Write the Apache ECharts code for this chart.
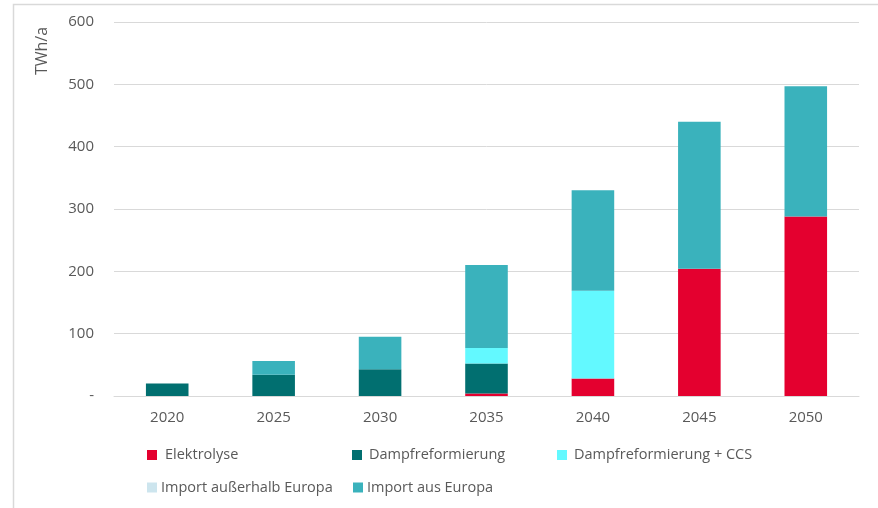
<!DOCTYPE html>
<html><head><meta charset="utf-8">
<script src="https://cdn.jsdelivr.net/npm/echarts@6/dist/echarts.min.js"></script>
<style>html,body{margin:0;padding:0;background:#fff}#c{width:878px;height:508px}</style>
</head><body><div id="c"></div>
<script>
const categories = ['2020','2025','2030','2035','2040','2045','2050'];
const elektrolyse = [0, 0, 0, 4, 28, 204, 288];
const dampf = [20, 34, 43, 48, 0, 0, 0];
const dampfCCS = [0, 0, 0, 25, 141, 0, 0];
const importAusserhalb = [0, 0, 0, 0, 0, 0, 0];
const importEuropa = [0, 22, 52, 133, 161, 236, 209];
const yTicks = [0, 100, 200, 300, 400, 500, 600];

const names = ['Elektrolyse','Dampfreformierung','Dampfreformierung + CCS','Import außerhalb Europa','Import aus Europa'];
const colors = ['#E4002F','#016F70','#63F9FF','#CDE5EE','#3AB2BC'];
const datas = [elektrolyse, dampf, dampfCCS, importAusserhalb, importEuropa];
const font = 'Open Sans';
const txt = '#595959';

const legendPos = [[147,447,3],[352,447,2],[557,447,2],[147,479.5,-1],[353,479.5,-1]];
const chart = echarts.init(document.getElementById('c'));
chart.setOption({
  animation:false,
  textStyle:{fontFamily:font},
  grid:{left:114, right:19, top:22, bottom:112},
  xAxis:{type:'category', data:categories, axisLine:{show:true,lineStyle:{color:'#D9D9D9'}}, axisTick:{show:false},
    axisLabel:{color:txt, fontSize:15, margin:14, fontFamily:font}},
  yAxis:{type:'value', min:0, max:600, interval:100, axisLine:{show:false}, axisTick:{show:false},
    splitLine:{lineStyle:{color:'#D9D9D9'}},
    axisLabel:{color:txt, fontSize:15, margin:20, fontFamily:font,
      formatter:v=> yTicks.includes(v) ? (v===0?'-':String(v)) : ''}},
  legend: names.map((n,i)=>({data:[n], left:legendPos[i][0], top:legendPos[i][1], padding:0, icon:'rect', itemWidth:10, itemHeight:10, itemGap:0,
    textStyle:{color:txt, fontSize:14.5, lineHeight:16, fontFamily:font, padding:[0,0,0,legendPos[i][2]]}})),
  series: names.map((n,i)=>({name:n, type:'bar', stack:'s', data:datas[i], barWidth:'40%', itemStyle:{color:colors[i]}})),
  graphic:[
    {type:'rect', shape:{x:13.5,y:4.5,width:900,height:520}, style:{fill:'none', stroke:'#D9D9D9', lineWidth:1.5}},
    {type:'text', x:42, y:51, rotation:Math.PI/2, style:{text:'TWh/a', fill:txt, font:'16px "Open Sans"', textAlign:'center', textVerticalAlign:'middle'}}
  ]
});
</script></body></html>
